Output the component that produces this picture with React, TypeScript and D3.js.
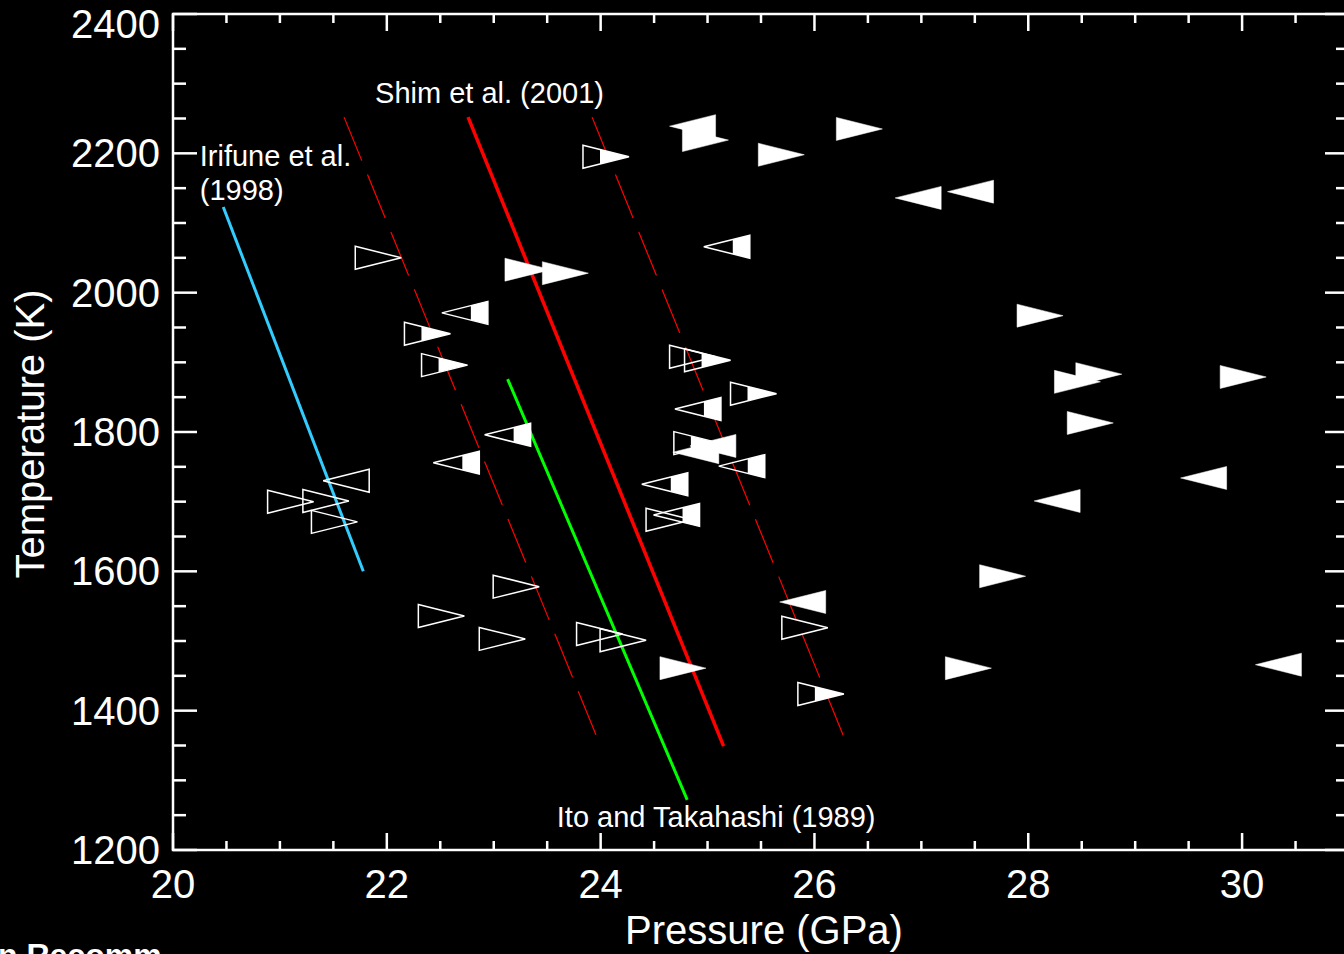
import * as d3 from 'd3';
import { useEffect, useRef } from 'react';

// axis ranges
const pressureDomain = [20, 31];
const temperatureDomain = [1200, 2400];
const xMajorTicks = [20, 22, 24, 26, 28, 30];
const yMajorTicks = [1200, 1400, 1600, 1800, 2000, 2200, 2400];

// measured points: pressure (GPa), temperature (K), symbol
// R/L = filled right/left triangle, r/l = open, rh/lh = open with partial fill
const pointP = [
  24.86, 24.98, 25.69, 26.42, 26.97, 27.46, 24.05, 25.18, 21.92, 23.32,
  23.67, 22.73, 22.38, 22.54, 24.86, 25.0, 25.43, 24.91, 24.9, 25.05,
  24.89, 25.32, 24.6, 24.64, 24.71, 23.13, 22.65, 21.62, 21.1, 21.43,
  21.51, 23.21, 22.51, 23.08, 23.99, 24.21, 24.77, 25.89, 25.91, 26.06,
  28.11, 28.46, 28.66, 28.58, 30.01, 29.64, 28.27, 27.76, 30.34, 27.44,
];
const pointT = [
  2239, 2219, 2198, 2235, 2136, 2145, 2195, 2066, 2050, 2033,
  2028, 1971, 1941, 1896, 1908, 1903, 1855, 1833, 1784, 1780,
  1771, 1751, 1725, 1674, 1681, 1796, 1756, 1730, 1700, 1701,
  1671, 1578, 1536, 1503, 1510, 1501, 1461, 1556, 1519, 1424,
  1967, 1872, 1883, 1813, 1879, 1734, 1701, 1593, 1466, 1461,
];
const pointSym = [
  'L', 'R', 'R', 'R', 'L', 'L', 'rh', 'lh', 'r', 'R',
  'R', 'lh', 'rh', 'rh', 'r', 'rh', 'rh', 'lh', 'rh', 'L',
  'L', 'lh', 'lh', 'r', 'lh', 'lh', 'lh', 'l', 'r', 'r',
  'r', 'r', 'r', 'r', 'r', 'r', 'R', 'L', 'r', 'rh',
  'R', 'R', 'R', 'R', 'R', 'L', 'L', 'R', 'L', 'R',
];

// phase boundaries (end points)
const irifuneP = [20.47, 21.78];
const irifuneT = [2123, 1600];
const shimP = [22.76, 25.15];
const shimT = [2252, 1349];
const shimLowP = [21.6, 24.0];
const shimHighP = [23.92, 26.31];
const itoP = [23.13, 24.81];
const itoT = [1876, 1272];

const labels = [
  { text: 'Shim et al. (2001)', p: 21.89, t: 2272 },
  { text: 'Irifune et al.', p: 20.25, t: 2182 },
  { text: '(1998)', p: 20.25, t: 2133 },
  { text: 'Ito and Takahashi (1989)', p: 23.59, t: 1233 },
];

const W = 1344;
const H = 954;

function App() {
  const ref = useRef<SVGSVGElement>(null);

  useEffect(() => {
    const svg = d3.select(ref.current);
    svg.selectAll('*').remove();

    const x = d3.scaleLinear().domain(pressureDomain).range([173, 1349]);
    const y = d3.scaleLinear().domain(temperatureDomain).range([850, 14]);
    const font = '"Liberation Sans", Arial, Helvetica, sans-serif';

    const line = d3.line<[number, number]>().x(d => x(d[0])).y(d => y(d[1]));
    const seg = (ps: number[], ts: number[]) => ps.map((p, i) => [p, ts[i]] as [number, number]);

    const lines = [
      { d: seg(shimLowP, shimT), color: '#ff0000', w: 1.2, dash: '47 15' },
      { d: seg(shimHighP, shimT), color: '#ff0000', w: 1.2, dash: '47 15' },
      { d: seg(shimP, shimT), color: '#ff0000', w: 3.5, dash: null },
      { d: seg(itoP, itoT), color: '#00ff00', w: 3, dash: null },
      { d: seg(irifuneP, irifuneT), color: '#33ccff', w: 3, dash: null },
    ];
    svg.append('g')
      .selectAll('path')
      .data(lines)
      .join('path')
      .attr('d', d => line(d.d))
      .attr('fill', 'none')
      .attr('stroke', d => d.color)
      .attr('stroke-width', d => d.w)
      .attr('stroke-dasharray', d => d.dash);

    // triangle symbols
    const hw = 23;
    const hh = 11.5;
    const g = svg.append('g');
    pointP.forEach((p, i) => {
      const cx = x(p);
      const cy = y(pointT[i]);
      const s = pointSym[i];
      const right = s[0] === 'R' || s[0] === 'r';
      const tri = right
        ? [[cx - hw, cy - hh], [cx + hw, cy], [cx - hw, cy + hh]]
        : [[cx + hw, cy - hh], [cx - hw, cy], [cx + hw, cy + hh]];
      const filled = s === 'R' || s === 'L';
      g.append('polygon')
        .attr('points', tri.map(q => q.join(',')).join(' '))
        .attr('fill', filled ? '#fff' : '#000')
        .attr('fill-opacity', filled ? 1 : 0)
        .attr('stroke', '#fff')
        .attr('stroke-width', filled ? 0.5 : 1.5)
        .attr('stroke-linejoin', 'miter');
      if (s === 'rh') {
        const xs = cx - 6;
        const h = hh * (cx + hw - xs) / (2 * hw);
        g.append('polygon')
          .attr('points', `${xs},${cy - h} ${cx + hw},${cy} ${xs},${cy + h}`)
          .attr('fill', '#fff');
      }
      if (s === 'lh') {
        const xs = cx + 6;
        const h = hh * (xs - (cx - hw)) / (2 * hw);
        g.append('polygon')
          .attr('points', `${xs},${cy - h} ${cx + hw},${cy - hh} ${cx + hw},${cy + hh} ${xs},${cy + h}`)
          .attr('fill', '#fff');
      }
    });

    // frame and ticks
    const [x0, x1] = x.range();
    const [y0, y1] = y.range();
    svg.append('rect')
      .attr('x', x0).attr('y', y1)
      .attr('width', x1 - x0).attr('height', y0 - y1)
      .attr('fill', 'none').attr('stroke', '#fff').attr('stroke-width', 2.5);

    const xMinor = d3.range(20, 31.01, 0.5).filter(v => !xMajorTicks.includes(v));
    const yMinor = d3.range(1200, 2401, 50).filter(v => !yMajorTicks.includes(v));
    const ticks = svg.append('g').attr('stroke', '#fff').attr('stroke-width', 2.5);
    const xTick = (vals: number[], len: number) => {
      vals.forEach(v => {
        ticks.append('line').attr('x1', x(v)).attr('x2', x(v)).attr('y1', y0).attr('y2', y0 - len);
        ticks.append('line').attr('x1', x(v)).attr('x2', x(v)).attr('y1', y1).attr('y2', y1 + len);
      });
    };
    const yTick = (vals: number[], len: number) => {
      vals.forEach(v => {
        ticks.append('line').attr('x1', x0).attr('x2', x0 + len).attr('y1', y(v)).attr('y2', y(v));
        ticks.append('line').attr('x1', x1).attr('x2', x1 - len).attr('y1', y(v)).attr('y2', y(v));
      });
    };
    xTick(xMajorTicks, 17);
    xTick(xMinor, 9);
    yTick(yMajorTicks, 24);
    yTick(yMinor, 13);

    svg.append('g')
      .selectAll('text')
      .data(xMajorTicks)
      .join('text')
      .attr('x', d => x(d))
      .attr('y', 898)
      .attr('text-anchor', 'middle')
      .attr('font-family', font)
      .attr('font-size', 40)
      .attr('fill', '#fff')
      .text(d => d);

    svg.append('g')
      .selectAll('text')
      .data(yMajorTicks)
      .join('text')
      .attr('x', 160)
      .attr('y', d => Math.max(y(d), 24) + 14)
      .attr('text-anchor', 'end')
      .attr('font-family', font)
      .attr('font-size', 40)
      .attr('fill', '#fff')
      .text(d => d);

    svg.append('text')
      .attr('x', (x0 + x1) / 2 + 3)
      .attr('y', 944)
      .attr('text-anchor', 'middle')
      .attr('font-family', font)
      .attr('font-size', 40)
      .attr('fill', '#fff')
      .text('Pressure (GPa)');

    svg.append('text')
      .attr('transform', `translate(44,${(y0 + y1) / 2 + 2}) rotate(-90)`)
      .attr('text-anchor', 'middle')
      .attr('font-family', font)
      .attr('font-size', 40)
      .attr('fill', '#fff')
      .text('Temperature (K)');

    svg.append('g')
      .selectAll('text')
      .data(labels)
      .join('text')
      .attr('x', d => x(d.p))
      .attr('y', d => y(d.t))
      .attr('font-family', font)
      .attr('font-size', 29)
      .attr('fill', '#fff')
      .text(d => d.text);

    // caption cut off by the bottom edge, as in the original figure
    svg.append('text')
      .attr('x', -2)
      .attr('y', 966)
      .attr('font-family', font)
      .attr('font-size', 32)
      .attr('font-weight', 'bold')
      .attr('fill', '#fff')
      .text('n Recomm');
  }, []);

  return (
    <div style={{ position: 'fixed', left: 0, top: 0, width: W, height: H, background: '#000', overflow: 'hidden' }}>
      <svg ref={ref} width={W} height={H} style={{ display: 'block' }} />
    </div>
  );
}

export default App;
